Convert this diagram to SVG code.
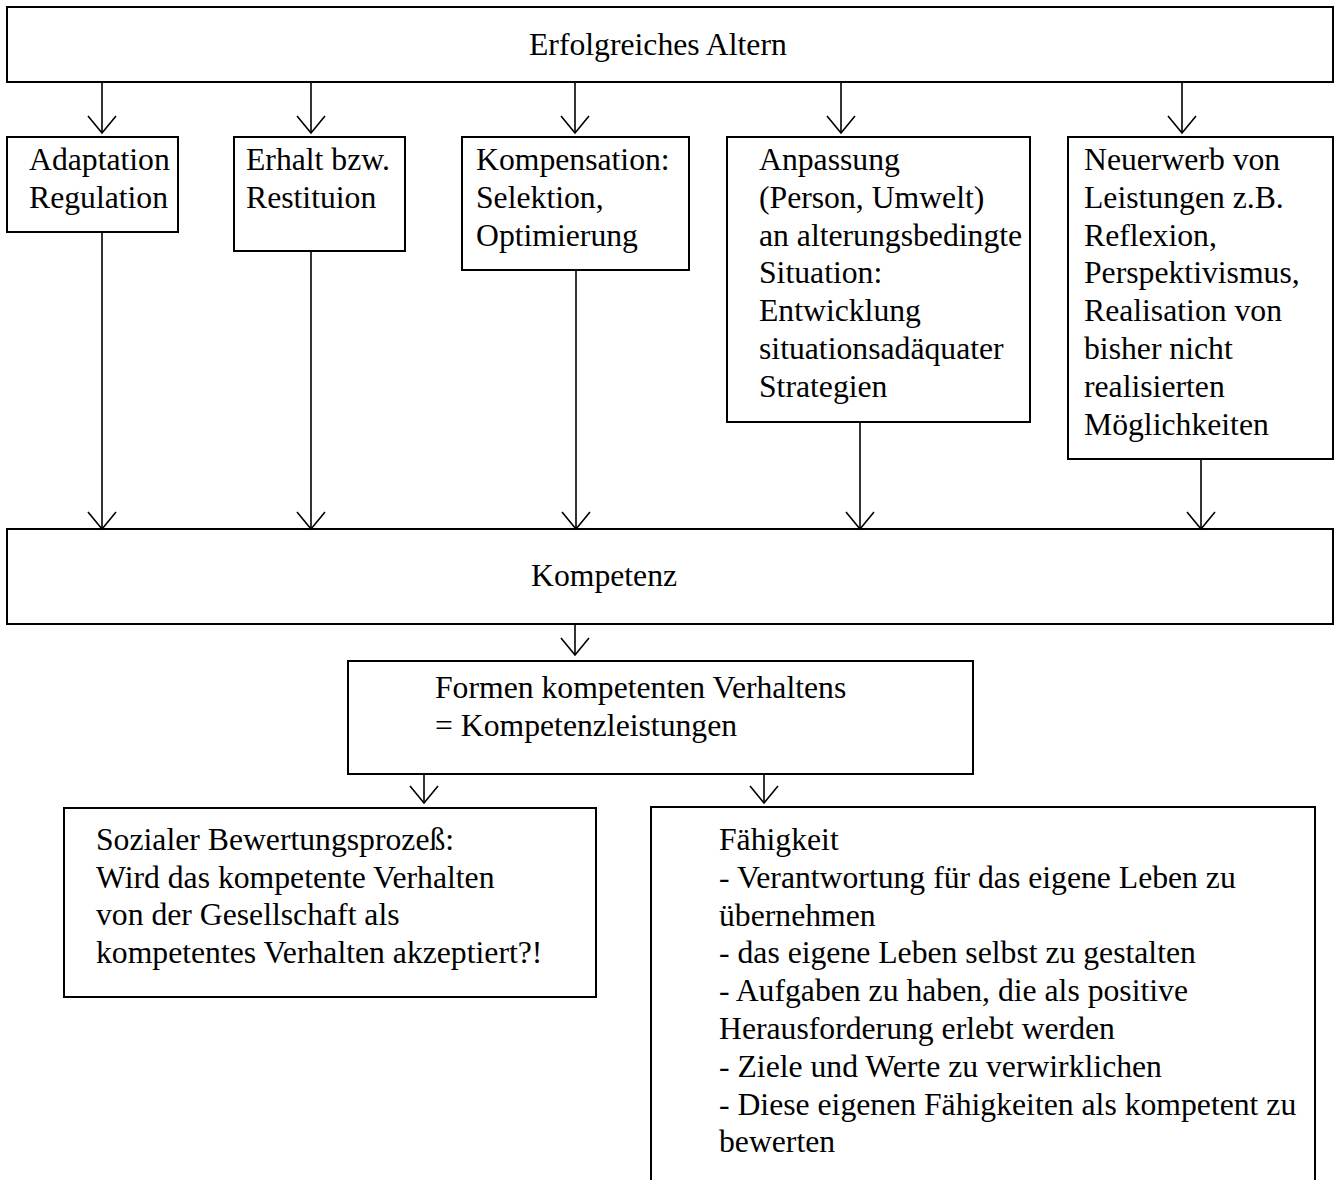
<svg xmlns="http://www.w3.org/2000/svg" width="1336" height="1180" viewBox="0 0 1336 1180">
<style>
.box{fill:#fff;stroke:#000;stroke-width:2}
.t{font-family:"Liberation Serif","Times New Roman",serif;font-size:31.7px;fill:#000}
.c{stroke:#000;stroke-width:1.6;fill:none}
</style>
<defs>
<marker id="ah" markerUnits="userSpaceOnUse" orient="auto" refX="0" refY="0" viewBox="-18 -15 20 30" markerWidth="20" markerHeight="30" overflow="visible">
<path d="M-17,-14 L0,0 L-17,14" fill="none" stroke="#000" stroke-width="1.6"/>
</marker>
</defs>
<rect width="1336" height="1180" fill="#fff"/>
<g id="n-erfolg">
<rect class="box" x="7" y="7" width="1326" height="75"/>
<text class="t" x="529" y="55">Erfolgreiches Altern</text>
</g>
<g id="n-adapt">
<rect class="box" x="7" y="137" width="171" height="95"/>
<text class="t" x="29" y="170">Adaptation</text>
<text class="t" x="29" y="207.8">Regulation</text>
</g>
<g id="n-erhalt">
<rect class="box" x="234" y="137" width="171" height="114"/>
<text class="t" x="246" y="170">Erhalt bzw.</text>
<text class="t" x="246" y="207.8">Restituion</text>
</g>
<g id="n-kompens">
<rect class="box" x="462" y="137" width="227" height="133"/>
<text class="t" x="476" y="170">Kompensation:</text>
<text class="t" x="476" y="207.8">Selektion,</text>
<text class="t" x="476" y="245.6">Optimierung</text>
</g>
<g id="n-anpassung">
<rect class="box" x="727" y="137" width="303" height="285"/>
<text class="t" x="759" y="170">Anpassung</text>
<text class="t" x="759" y="207.8">(Person, Umwelt)</text>
<text class="t" x="759" y="245.6">an alterungsbedingte</text>
<text class="t" x="759" y="283.4">Situation:</text>
<text class="t" x="759" y="321.2">Entwicklung</text>
<text class="t" x="759" y="359">situationsadäquater</text>
<text class="t" x="759" y="396.8">Strategien</text>
</g>
<g id="n-neuerwerb">
<rect class="box" x="1068" y="137" width="265" height="322"/>
<text class="t" x="1084" y="170">Neuerwerb von</text>
<text class="t" x="1084" y="207.8">Leistungen z.B.</text>
<text class="t" x="1084" y="245.6">Reflexion,</text>
<text class="t" x="1084" y="283.4">Perspektivismus,</text>
<text class="t" x="1084" y="321.2">Realisation von</text>
<text class="t" x="1084" y="359">bisher nicht</text>
<text class="t" x="1084" y="396.8">realisierten</text>
<text class="t" x="1084" y="434.6">Möglichkeiten</text>
</g>
<g id="n-kompetenz">
<rect class="box" x="7" y="529" width="1326" height="95"/>
<text class="t" x="531" y="586">Kompetenz</text>
</g>
<g id="n-formen">
<rect class="box" x="348" y="661" width="625" height="113"/>
<text class="t" x="435" y="698">Formen kompetenten Verhaltens</text>
<text class="t" x="435" y="735.5">= Kompetenzleistungen</text>
</g>
<g id="n-sozial">
<rect class="box" x="64" y="808" width="532" height="189"/>
<text class="t" x="96" y="850">Sozialer Bewertungsprozeß:</text>
<text class="t" x="96" y="887.7">Wird das kompetente Verhalten</text>
<text class="t" x="96" y="925.4">von der Gesellschaft als</text>
<text class="t" x="96" y="963.1">kompetentes Verhalten akzeptiert?!</text>
</g>
<g id="n-faehigkeit">
<path class="box" d="M651,1181 L651,807 L1315,807 L1315,1181"/>
<text class="t" x="719" y="850">Fähigkeit</text>
<text class="t" x="719" y="887.8">- Verantwortung für das eigene Leben zu</text>
<text class="t" x="719" y="925.6">übernehmen</text>
<text class="t" x="719" y="963.4">- das eigene Leben selbst zu gestalten</text>
<text class="t" x="719" y="1001.2">- Aufgaben zu haben, die als positive</text>
<text class="t" x="719" y="1039">Herausforderung erlebt werden</text>
<text class="t" x="719" y="1076.8">- Ziele und Werte zu verwirklichen</text>
<text class="t" x="719" y="1114.6">- Diese eigenen Fähigkeiten als kompetent zu</text>
<text class="t" x="719" y="1152.4">bewerten</text>
</g>
<g id="connectors">
<line class="c" x1="102" y1="82" x2="102" y2="133" marker-end="url(#ah)"/>
<line class="c" x1="311" y1="82" x2="311" y2="133" marker-end="url(#ah)"/>
<line class="c" x1="575" y1="82" x2="575" y2="133" marker-end="url(#ah)"/>
<line class="c" x1="841" y1="82" x2="841" y2="133" marker-end="url(#ah)"/>
<line class="c" x1="1182" y1="82" x2="1182" y2="133" marker-end="url(#ah)"/>
<line class="c" x1="102" y1="232" x2="102" y2="529" marker-end="url(#ah)"/>
<line class="c" x1="311" y1="251" x2="311" y2="529" marker-end="url(#ah)"/>
<line class="c" x1="576" y1="270" x2="576" y2="529" marker-end="url(#ah)"/>
<line class="c" x1="860" y1="422" x2="860" y2="529" marker-end="url(#ah)"/>
<line class="c" x1="1201" y1="459" x2="1201" y2="529" marker-end="url(#ah)"/>
<line class="c" x1="575" y1="624" x2="575" y2="655" marker-end="url(#ah)"/>
<line class="c" x1="424" y1="774" x2="424" y2="803" marker-end="url(#ah)"/>
<line class="c" x1="764" y1="774" x2="764" y2="803" marker-end="url(#ah)"/>
</g>
</svg>
